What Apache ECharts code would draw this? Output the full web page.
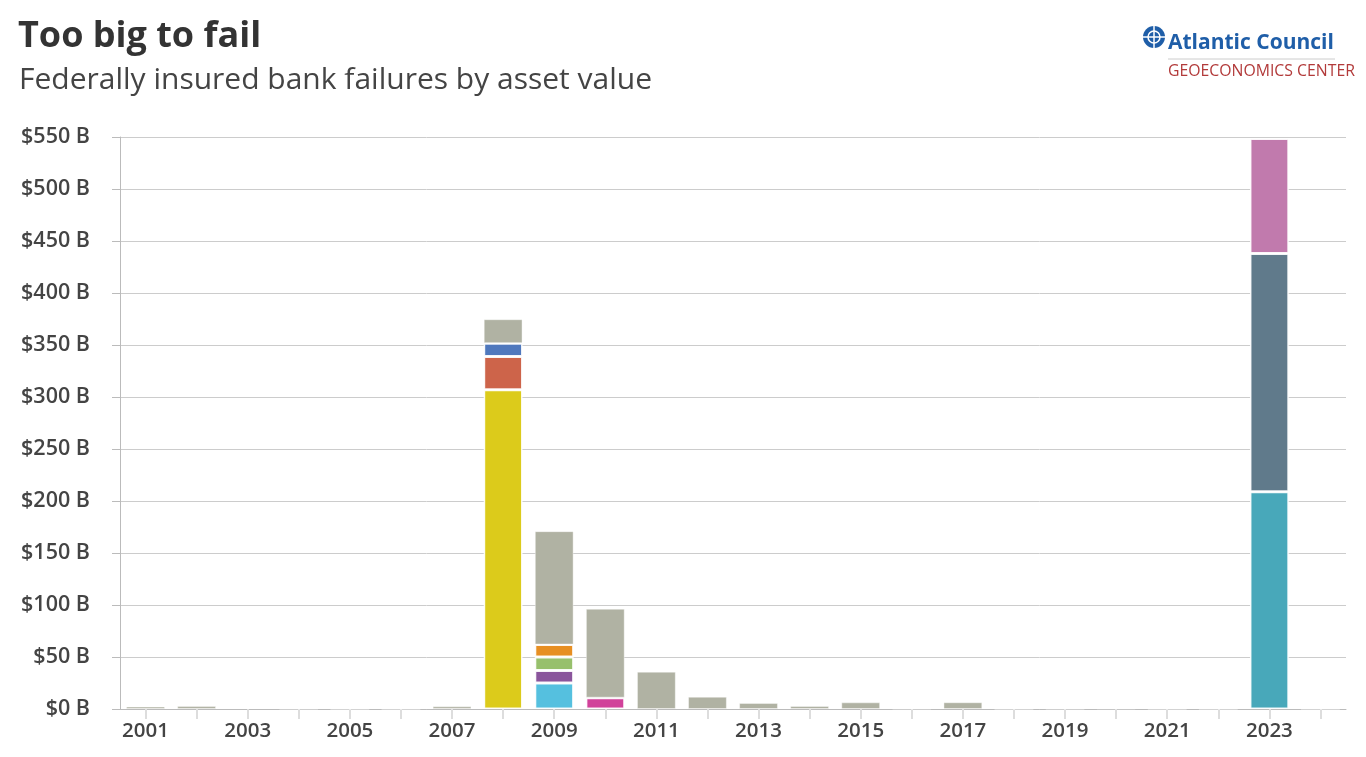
<!DOCTYPE html>
<html><head><meta charset="utf-8">
<script src="https://cdn.jsdelivr.net/npm/echarts@6/dist/echarts.min.js"></script>
<style>
html,body{margin:0;padding:0;background:#fff;}
#chart{width:1366px;height:757px;}
</style></head>
<body><div id="chart"></div>
<script>
// ---- DATA ----
const years = ['2001','2002','2003','2004','2005','2006','2007','2008','2009','2010','2011','2012','2013','2014','2015','2016','2017','2018','2019','2020','2021','2022','2023','2024'];
// Asset value (billions USD) of all other failed banks, per year
const otherBanks = [2.3, 2.8, 1.0, 0.2, 0, 0, 2.6, 23.0, 109.0, 85.5, 35.9, 11.8, 5.8, 2.9, 6.4, 0.3, 6.5, 0, 0.2, 0.5, 0, 0, 0, 0];
// Large individual failures: name, year, value (billions USD)
const bankNames  = ['Washington Mutual','IndyMac','Downey Savings','Colonial Bank','Guaranty Bank','BankUnited','AmTrust Bank','Westernbank','Silicon Valley Bank','First Republic','Signature Bank'];
const bankYears  = ['2008','2008','2008','2009','2009','2009','2009','2010','2023','2023','2023'];
const bankValues = [307.0, 32.0, 12.8, 25.0, 12.0, 13.0, 12.0, 10.9, 209.0, 229.0, 110.5];
const yTicks = [0, 50, 100, 150, 200, 250, 300, 350, 400, 450, 500, 550];

// ---- STYLE ----
const bankColors = ['#dccb1b','#cd644a','#4f78bd','#55c0df','#8a559c','#97c06c','#e78f22','#d1419a','#48a8ba','#607a8b','#c17aad'];
const otherColor = '#b0b2a3';

const series = bankNames.map((n, i) => {
  const data = years.map(y => y === bankYears[i] ? bankValues[i] : '-');
  return {
    name: n, type: 'bar', stack: 'total', data: data, barWidth: '76%',
    itemStyle: { color: bankColors[i], borderColor: 'rgba(255,255,255,0.9)', borderWidth: 1.5 }
  };
});
series.push({
  name: 'Other failures', type: 'bar', stack: 'total', data: otherBanks, barWidth: '76%',
  itemStyle: { color: otherColor, borderColor: 'rgba(255,255,255,0.4)', borderWidth: 1 }
});

const FONT = '"Open Sans", Lato, sans-serif';
const chart = echarts.init(document.getElementById('chart'), null, { renderer: 'canvas' });
chart.setOption({
  backgroundColor: '#fff',
  animation: false,
  textStyle: { fontFamily: FONT },
  title: [
    { text: 'Too big to fail', left: 13, top: 14, textStyle: { fontFamily: FONT, fontSize: 36, fontWeight: 'bold', color: '#333' } },
    { text: 'Federally insured bank failures by asset value', left: 14, top: 60, textStyle: { fontFamily: FONT, fontSize: 30, fontWeight: 'normal', color: '#444' } }
  ],
  graphic: [
    { type: 'circle', shape: { cx: 1154, cy: 37, r: 11 }, style: { fill: '#1f5ea8' } },
    { type: 'circle', shape: { cx: 1154, cy: 37, r: 6 }, style: { fill: 'none', stroke: '#fff', lineWidth: 1.5 } },
    { type: 'line', shape: { x1: 1143, y1: 37, x2: 1165, y2: 37 }, style: { stroke: '#fff', lineWidth: 1.5 } },
    { type: 'line', shape: { x1: 1154, y1: 26, x2: 1154, y2: 48 }, style: { stroke: '#fff', lineWidth: 1.5 } },
    { type: 'text', left: 1168, top: 33, style: { text: 'Atlantic Council', font: 'bold 21px ' + FONT, fill: '#1f5ea8' } },
    { type: 'line', shape: { x1: 1168, y1: 59, x2: 1335, y2: 59 }, style: { stroke: '#cccccc', lineWidth: 1 } },
    { type: 'text', left: 1168, top: 63, style: { text: 'GEOECONOMICS CENTER', font: '15.8px ' + FONT, fill: '#b23a3a' } }
  ],
  grid: { left: 120, right: 20, top: 137, bottom: 48, containLabel: false },
  xAxis: {
    type: 'category', data: years,
    axisLine: { show: true, lineStyle: { color: '#bbbbbb', width: 1 } },
    axisTick: { show: true, alignWithLabel: true, interval: 0, length: 10, lineStyle: { color: '#dddddd', width: 2 } },
    axisLabel: { interval: 1, margin: 12, fontSize: 20.5, fontFamily: FONT, color: '#444', fontWeight: 600 }
  },
  yAxis: {
    type: 'value', min: yTicks[0], max: yTicks[yTicks.length - 1], interval: 50,
    axisLine: { show: true, lineStyle: { color: '#bbbbbb', width: 1 } },
    axisTick: { show: true, length: 8, lineStyle: { color: '#bbbbbb' } },
    splitLine: { show: true, lineStyle: { color: '#cccccc', width: 1 } },
    axisLabel: { margin: 30, fontSize: 21.5, fontFamily: FONT, fontWeight: 600, color: '#444',
      formatter: v => '$' + v + ' B' }
  },
  series: series
});
</script></body></html>
